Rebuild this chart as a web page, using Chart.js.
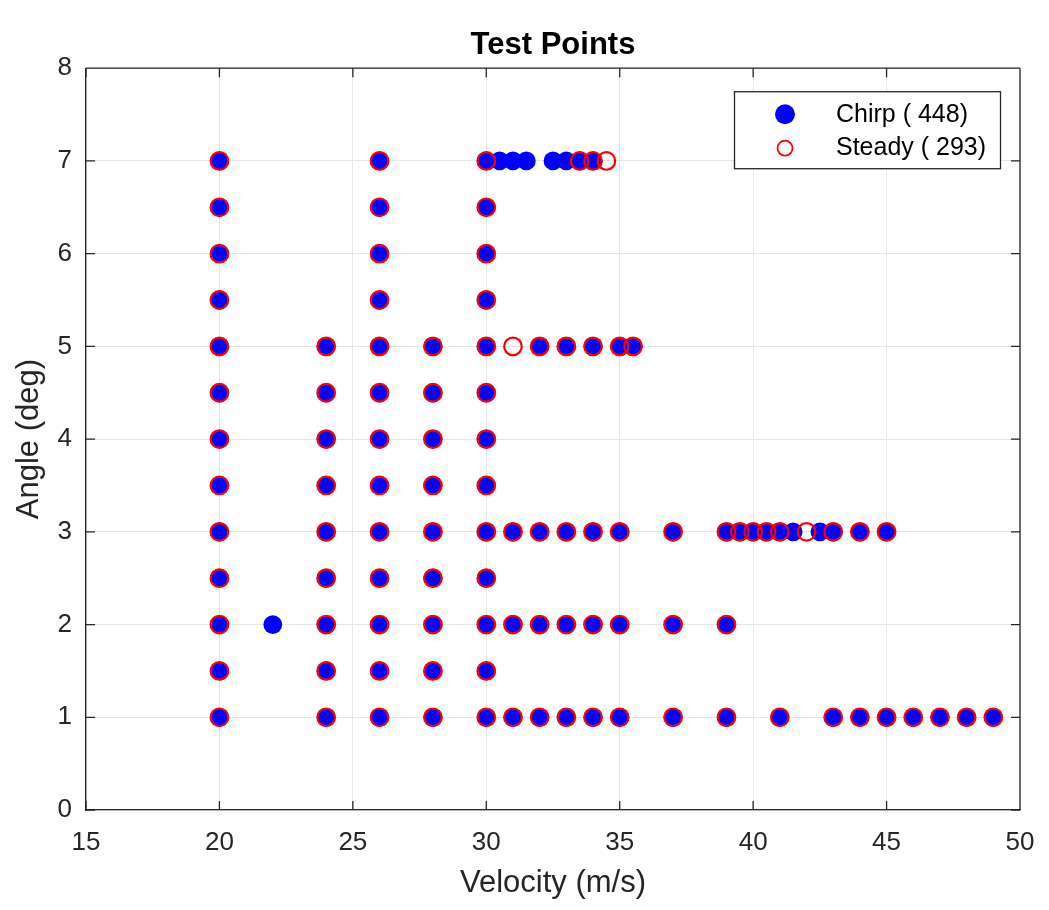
<!DOCTYPE html>
<html>
<head>
<meta charset="utf-8">
<script src="https://cdn.jsdelivr.net/npm/chart.js@4.4.0/dist/chart.umd.min.js"></script>
<style>
html,body{margin:0;padding:0;background:#fff;}
#wrap{width:1049px;height:910px;}
canvas{display:block;}
</style>
</head>
<body>
<div id="wrap"><canvas id="c" width="1049" height="910"></canvas></div>
<script>
// ---------- data ----------
const chartTitle = 'Test Points';
const xTitle = 'Velocity (m/s)';
const yTitle = 'Angle (deg)';
const chirpLabel = 'Chirp ( 448)';
const steadyLabel = 'Steady ( 293)';

// full angle columns (velocity -> angles) shared by both series
const colVelocities = [20, 24, 26, 28, 30];
const colAngles = [
  [1, 1.5, 2, 2.5, 3, 3.5, 4, 4.5, 5, 5.5, 6, 6.5, 7],   // 20
  [1, 1.5, 2, 2.5, 3, 3.5, 4, 4.5, 5],                    // 24
  [1, 1.5, 2, 2.5, 3, 3.5, 4, 4.5, 5, 5.5, 6, 6.5, 7],   // 26
  [1, 1.5, 2, 2.5, 3, 3.5, 4, 4.5, 5],                    // 28
  [1, 1.5, 2, 2.5, 3, 3.5, 4, 4.5, 5, 5.5, 6, 6.5, 7]    // 30
];

// row extensions (angle -> velocities)
const rowAngles = [1, 2, 3, 5, 7];
const chirpRows = [
  [31, 32, 33, 34, 35, 37, 39, 41, 43, 44, 45, 46, 47, 48, 49],
  [22, 31, 32, 33, 34, 35, 37, 39],
  [31, 32, 33, 34, 35, 37, 39, 39.5, 40, 40.5, 41, 41.5, 42.5, 43, 44, 45],
  [32, 33, 34, 35, 35.5],
  [30.5, 31, 31.5, 32.5, 33, 33.5, 34]
];
const steadyRows = [
  [31, 32, 33, 34, 35, 37, 39, 41, 43, 44, 45, 46, 47, 48, 49],
  [31, 32, 33, 34, 35, 37, 39],
  [31, 32, 33, 34, 35, 37, 39, 39.5, 40, 40.5, 41, 42, 43, 44, 45],
  [31, 32, 33, 34, 35, 35.5],
  [33.5, 34, 34.5]
];

const xTicks = [15, 20, 25, 30, 35, 40, 45, 50];
const yTicks = [0, 1, 2, 3, 4, 5, 6, 7, 8];

// ---------- build point lists ----------
function buildPoints(rows) {
  const pts = [];
  colVelocities.forEach((v, i) => colAngles[i].forEach(a => pts.push({x: v, y: a})));
  rowAngles.forEach((a, i) => rows[i].forEach(v => pts.push({x: v, y: a})));
  return pts;
}
const chirpData = buildPoints(chirpRows);
const steadyData = buildPoints(steadyRows);

// ---------- styling ----------
const FONT = '"Liberation Sans", Arial, Helvetica, sans-serif';
Chart.defaults.font.family = FONT;
const AX = '#262626';
const GRID = '#e6e6e6';

const framePlugin = {
  id: 'frame',
  beforeDatasetsDraw(chart) {
    const {ctx, chartArea: ca, scales} = chart;
    ctx.save();
    ctx.strokeStyle = AX;
    ctx.lineWidth = 1.3;
    ctx.beginPath();
    ctx.moveTo(ca.left, ca.top); ctx.lineTo(ca.right, ca.top);
    ctx.moveTo(ca.right, ca.top); ctx.lineTo(ca.right, ca.bottom);
    const tl = 9;
    scales.x.ticks.forEach(t => {
      const p = scales.x.getPixelForValue(t.value);
      ctx.moveTo(p, ca.bottom); ctx.lineTo(p, ca.bottom - tl);
      ctx.moveTo(p, ca.top); ctx.lineTo(p, ca.top + tl);
    });
    scales.y.ticks.forEach(t => {
      const p = scales.y.getPixelForValue(t.value);
      ctx.moveTo(ca.left, p); ctx.lineTo(ca.left + tl, p);
      ctx.moveTo(ca.right, p); ctx.lineTo(ca.right - tl, p);
    });
    ctx.stroke();
    ctx.restore();
  },
  afterDraw(chart) {
    const {ctx, chartArea: ca} = chart;
    const ds = chart.data.datasets;
    const bx = ca.right - 286, by = ca.top + 23, bw = 266, bh = 77;
    ctx.save();
    ctx.fillStyle = '#fff';
    ctx.fillRect(bx, by, bw, bh);
    ctx.strokeStyle = AX;
    ctx.lineWidth = 1.3;
    ctx.strokeRect(bx + 0.5, by + 0.5, bw, bh);
    // markers
    ctx.beginPath();
    ctx.fillStyle = ds[0].backgroundColor;
    ctx.arc(bx + 51, by + 23, 10, 0, Math.PI * 2);
    ctx.fill();
    ctx.beginPath();
    ctx.strokeStyle = ds[1].borderColor;
    ctx.lineWidth = 1.8;
    ctx.arc(bx + 51, by + 57, 7.5, 0, Math.PI * 2);
    ctx.stroke();
    // text
    ctx.fillStyle = '#000';
    ctx.font = '25px ' + FONT;
    ctx.textBaseline = 'middle';
    ctx.textAlign = 'left';
    ctx.fillText(ds[0].label, bx + 102, by + 24);
    ctx.fillText(ds[1].label, bx + 102, by + 57);
    ctx.restore();
  }
};

new Chart(document.getElementById('c'), {
  type: 'scatter',
  data: {
    datasets: [
      {label: chirpLabel, data: chirpData, backgroundColor: '#0000ff', borderColor: '#0000ff',
       pointRadius: 9.4, borderWidth: 0, pointHoverRadius: 9.4, order: 2},
      {label: steadyLabel, data: steadyData, backgroundColor: 'rgba(0,0,0,0)', borderColor: '#ff0000',
       pointRadius: 8.8, borderWidth: 2.2, pointHoverRadius: 8.8, order: 1}
    ]
  },
  options: {
    responsive: false,
    animation: false,
    devicePixelRatio: 1,
    layout: {padding: {left: 0, right: 29, top: 0, bottom: 0}},
    plugins: {
      legend: {display: false},
      tooltip: {enabled: false},
      title: {
        display: true, text: chartTitle, color: '#000', fullSize: false,
        font: {size: 31, weight: 'bold'},
        padding: {top: 27, bottom: 4}
      }
    },
    scales: {
      x: {
        type: 'linear', min: 15, max: 50,
        afterBuildTicks: s => { s.ticks = xTicks.map(v => ({value: v})); },
        ticks: {font: {size: 26}, color: AX, padding: 17, maxRotation: 0},
        grid: {color: GRID, drawTicks: false, lineWidth: 1},
        border: {display: true, color: AX, width: 1.3},
        title: {display: true, text: xTitle, color: AX, font: {size: 31}, padding: {top: 0, bottom: 8}},
        afterFit: s => { s.height = 100; s.paddingRight = 0; s.paddingLeft = 0; }
      },
      y: {
        type: 'linear', min: 0, max: 8,
        afterBuildTicks: s => { s.ticks = yTicks.map(v => ({value: v})); },
        ticks: {font: {size: 26}, color: AX, padding: 14},
        grid: {color: GRID, drawTicks: false, lineWidth: 1},
        border: {display: true, color: AX, width: 1.3},
        title: {display: true, text: yTitle, color: AX, font: {size: 31}, padding: {top: 11, bottom: 0}},
        afterFit: s => { s.width = 86; }
      }
    }
  },
  plugins: [framePlugin]
});
</script>
</body>
</html>
